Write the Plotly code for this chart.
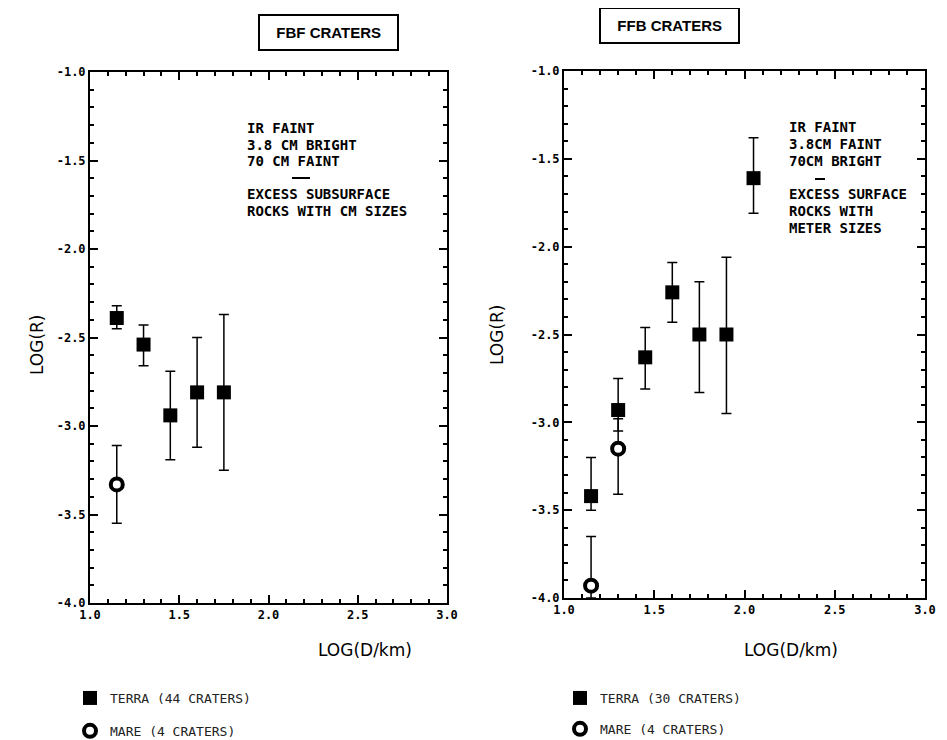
import plotly.graph_objects as go

# log(D/km) bins
fbf_x = [1.15, 1.30, 1.45, 1.60, 1.75]
fbf_terra = [-2.39, -2.54, -2.94, -2.81, -2.81]
fbf_terra_hi = [-2.32, -2.43, -2.69, -2.50, -2.37]
fbf_terra_lo = [-2.45, -2.66, -3.19, -3.12, -3.25]
fbf_mare_x = [1.15]
fbf_mare = [-3.33]
fbf_mare_hi = [-3.11]
fbf_mare_lo = [-3.55]

ffb_x = [1.15, 1.30, 1.45, 1.60, 1.75, 1.90, 2.05]
ffb_terra = [-3.42, -2.93, -2.63, -2.26, -2.50, -2.50, -1.61]
ffb_terra_hi = [-3.20, -2.75, -2.46, -2.09, -2.20, -2.06, -1.38]
ffb_terra_lo = [-3.50, -3.05, -2.81, -2.43, -2.83, -2.95, -1.81]
ffb_mare_x = [1.15, 1.30]
ffb_mare = [-3.93, -3.15]
ffb_mare_hi = [-3.65, -2.98]
ffb_mare_lo = [-4.00, -3.41]

x_ticks = [1.0, 1.5, 2.0, 2.5, 3.0]
x_ticktext = ['1.0', '1.5', '2.0', '2.5', '3.0']
y_ticks = [-1.0, -1.5, -2.0, -2.5, -3.0, -3.5, -4.0]
y_ticktext = ['-1.0', '-1.5', '-2.0', '-2.5', '-3.0', '-3.5', '-4.0']

fbf_notes = ['IR FAINT', '3.8 CM BRIGHT', '70 CM FAINT', '', 'EXCESS SUBSURFACE', 'ROCKS WITH CM SIZES']
ffb_notes = ['IR FAINT', '3.8CM FAINT', '70CM BRIGHT', '', 'EXCESS SURFACE', 'ROCKS WITH', 'METER SIZES']

W, H = 947, 740
OFF = 8  # page body margin
MONO = 'DejaVu Sans Mono'


def sx(p):
    return (p - OFF) / W


def sy(p):
    return 1 - (p - OFF) / H


def err(y, hi, lo):
    return dict(type='data', symmetric=False,
                array=[h - v for v, h in zip(y, hi)],
                arrayminus=[v - l for v, l in zip(y, lo)],
                color='black', thickness=1.5, width=5)


terra_marker = dict(symbol='square', size=14, color='black')
mare_marker = dict(symbol='circle', size=12, color='white', line=dict(color='black', width=4))

fig = go.Figure()
fig.add_trace(go.Scatter(x=fbf_x, y=fbf_terra, mode='markers', marker=terra_marker,
                         error_y=err(fbf_terra, fbf_terra_hi, fbf_terra_lo),
                         name='TERRA (44 CRATERS)', legend='legend', legendgroup='a',
                         xaxis='x', yaxis='y'))
fig.add_trace(go.Scatter(x=fbf_mare_x, y=fbf_mare, mode='markers', marker=mare_marker,
                         error_y=err(fbf_mare, fbf_mare_hi, fbf_mare_lo),
                         name='MARE (4 CRATERS)', legend='legend', legendgroup='b',
                         xaxis='x', yaxis='y'))
fig.add_trace(go.Scatter(x=ffb_x, y=ffb_terra, mode='markers', marker=terra_marker,
                         error_y=err(ffb_terra, ffb_terra_hi, ffb_terra_lo),
                         name='TERRA (30 CRATERS)', legend='legend2', legendgroup='c',
                         xaxis='x2', yaxis='y2'))
fig.add_trace(go.Scatter(x=ffb_mare_x, y=ffb_mare, mode='markers', marker=mare_marker,
                         error_y=err(ffb_mare, ffb_mare_hi, ffb_mare_lo),
                         name='MARE (4 CRATERS)', legend='legend2', legendgroup='d',
                         xaxis='x2', yaxis='y2', cliponaxis=False))

axis_common = dict(showline=True, linecolor='black', linewidth=2, mirror='ticks',
                   ticks='inside', ticklen=8, tickwidth=2, tickcolor='black',
                   showgrid=False, zeroline=False, tickmode='array',
                   tickfont=dict(family=MONO, size=12, color='black'),
                   minor=dict(ticks='inside', ticklen=4, tickwidth=1.5,
                              tickcolor='black', dtick=0.1, showgrid=False))

xa = dict(axis_common, range=[1.0, 3.0], tickvals=x_ticks,
          ticktext=['<b>' + t + '</b>' for t in x_ticktext])
ya = dict(axis_common, range=[-4.0, -1.0], tickvals=y_ticks,
          ticktext=['<b>' + t + '</b>' for t in y_ticktext])

legend_font = dict(family=MONO, size=13, color='#222')
fig.update_layout(
    width=W, height=H,
    margin=dict(l=0, r=0, t=0, b=0, autoexpand=False),
    paper_bgcolor='white', plot_bgcolor='white',
    xaxis=dict(xa, domain=[sx(90), sx(447)], anchor='y'),
    yaxis=dict(ya, domain=[sy(603), sy(72)], anchor='x'),
    xaxis2=dict(xa, domain=[sx(564), sx(925)], anchor='y2'),
    yaxis2=dict(ya, domain=[sy(598), sy(71)], anchor='x2'),
    legend=dict(x=sx(70), y=sy(683), xanchor='left', yanchor='top',
                tracegroupgap=13, font=legend_font, bgcolor='rgba(0,0,0,0)'),
    legend2=dict(x=sx(560), y=sy(683), xanchor='left', yanchor='top',
                 tracegroupgap=11, font=legend_font, bgcolor='rgba(0,0,0,0)'),
)

ann = []
# boxed panel titles
ann.append(dict(text='&nbsp;&nbsp;<b>FBF CRATERS</b>&nbsp;&nbsp;', x=sx(258), y=sy(32),
                xref='paper', yref='paper', yanchor='middle', showarrow=False,
                font=dict(family='Liberation Sans', size=15, color='black'),
                bordercolor='black', borderwidth=2, borderpad=8))
ann.append(dict(text='&nbsp;&nbsp;<b>FFB CRATERS</b>&nbsp;&nbsp;', x=sx(740), y=sy(26),
                xref='paper', yref='paper', yanchor='middle', showarrow=False,
                font=dict(family='Liberation Sans', size=15, color='black'),
                bordercolor='black', borderwidth=2, borderpad=8))

# notes
for i, t in enumerate(fbf_notes):
    if t:
        ann.append(dict(text='<b>' + t + '</b>', x=sx(245), y=sy(128 + 16.5 * i),
                        xref='paper', yref='paper', xanchor='left', yanchor='middle',
                        showarrow=False, font=dict(family=MONO, size=14, color='black')))
for i, t in enumerate(ffb_notes):
    if t:
        ann.append(dict(text='<b>' + t + '</b>', x=sx(787), y=sy(127 + 16.8 * i),
                        xref='paper', yref='paper', xanchor='left', yanchor='middle',
                        showarrow=False, font=dict(family=MONO, size=14, color='black')))

# axis titles
for xc, yc in [(25, 345), (497, 335)]:
    ann.append(dict(text='LOG(R)', x=sx(xc), y=sy(yc), xref='paper', yref='paper',
                    textangle=-90, yanchor='middle', showarrow=False,
                    font=dict(family='DejaVu Sans', size=17, color='black')))
for xc in [365, 840]:
    ann.append(dict(text='LOG(D/km)', x=sx(xc), y=sy(650), xref='paper', yref='paper',
                    yanchor='middle', showarrow=False,
                    font=dict(family='DejaVu Sans', size=17, color='black')))

fig.update_layout(annotations=ann)

fig.add_shape(type='line', xref='paper', yref='paper', x0=sx(292), x1=sx(310),
              y0=sy(178), y1=sy(178), line=dict(color='black', width=2))
fig.add_shape(type='line', xref='paper', yref='paper', x0=sx(815), x1=sx(825),
              y0=sy(179), y1=sy(179), line=dict(color='black', width=2))

fig.write_html("out.html")
